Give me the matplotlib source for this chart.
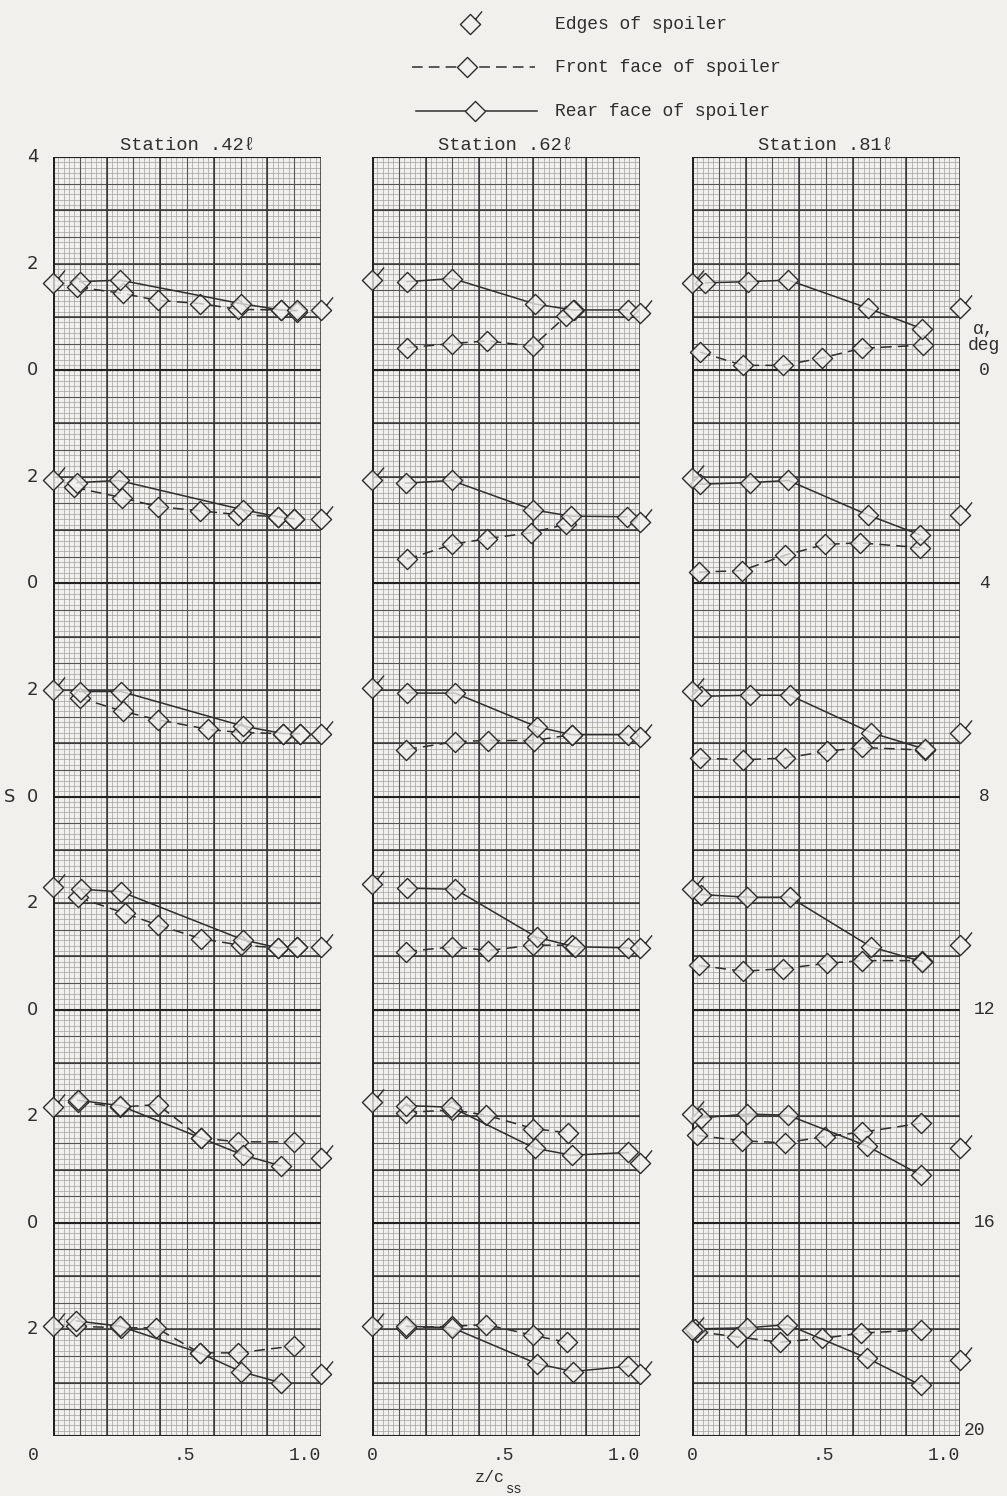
import numpy as np
import matplotlib.pyplot as plt
from matplotlib.path import Path

# angle of attack of each band, top to bottom
ALPHAS = [0, 4, 8, 12, 16, 20]
Y_TICKS = [2, 4, 6, 8, 10, 12, 14, 16, 18, 20, 22, 24]
Y_TICK_LABELS = ["2", "0", "2", "0", "2", "0", "2", "0", "2", "0", "2", "4"]
STATIONS = ["Station .42\u2113", "Station .62\u2113", "Station .81\u2113"]

# ---- station .42 l  (one list per alpha)
rear_x_42 = [[0.10, 0.25, 0.70, 0.85, 0.91],
             [0.09, 0.245, 0.71, 0.84, 0.90],
             [0.10, 0.255, 0.71, 0.86, 0.92],
             [0.105, 0.255, 0.71, 0.84, 0.91],
             [0.093, 0.25, 0.553, 0.71, 0.85],
             [0.087, 0.25, 0.547, 0.70, 0.85]]
rear_s_42 = [[1.66, 1.69, 1.25, 1.13, 1.12],
             [1.89, 1.93, 1.38, 1.25, 1.21],
             [1.97, 1.97, 1.32, 1.18, 1.18],
             [2.26, 2.21, 1.31, 1.16, 1.18],
             [2.30, 2.20, 1.59, 1.27, 1.07],
             [2.16, 2.06, 1.56, 1.21, 1.00]]
front_x_42 = [[0.09, 0.26, 0.39, 0.55, 0.69, 0.85, 0.91],
              [0.08, 0.256, 0.39, 0.55, 0.69, 0.84, 0.90],
              [0.10, 0.26, 0.39, 0.58, 0.70, 0.86, 0.92],
              [0.093, 0.267, 0.39, 0.553, 0.70, 0.84, 0.91],
              [0.093, 0.25, 0.39, 0.553, 0.69, 0.90],
              [0.087, 0.255, 0.385, 0.547, 0.69, 0.90]]
front_s_42 = [[1.56, 1.44, 1.31, 1.25, 1.14, 1.13, 1.10],
              [1.80, 1.61, 1.44, 1.36, 1.29, 1.25, 1.21],
              [1.85, 1.60, 1.44, 1.26, 1.20, 1.18, 1.18],
              [2.11, 1.81, 1.59, 1.33, 1.21, 1.16, 1.18],
              [2.27, 2.17, 2.22, 1.59, 1.52, 1.52],
              [2.06, 2.03, 2.03, 1.56, 1.56, 1.69]]
edge_l_42 = [1.63, 1.94, 2.00, 2.31, 2.17, 2.06]
edge_r_42 = [1.13, 1.20, 1.18, 1.18, 1.22, 1.16]

# ---- station .62 l
rear_x_62 = [[0.13, 0.30, 0.61, 0.75, 0.955],
             [0.126, 0.297, 0.60, 0.744, 0.95],
             [0.132, 0.31, 0.614, 0.745, 0.956],
             [0.132, 0.31, 0.614, 0.757, 0.956],
             [0.128, 0.296, 0.607, 0.745, 0.956],
             [0.128, 0.30, 0.614, 0.75, 0.956]]
rear_s_62 = [[1.66, 1.72, 1.24, 1.13, 1.13],
             [1.88, 1.93, 1.38, 1.26, 1.25],
             [1.94, 1.94, 1.31, 1.16, 1.16],
             [2.28, 2.26, 1.36, 1.18, 1.16],
             [2.20, 2.17, 1.40, 1.27, 1.32],
             [2.06, 2.03, 1.36, 1.21, 1.31]]
front_x_62 = [[0.13, 0.30, 0.43, 0.60, 0.725, 0.755],
              [0.13, 0.30, 0.43, 0.595, 0.725],
              [0.128, 0.31, 0.433, 0.605, 0.745],
              [0.128, 0.30, 0.433, 0.60, 0.745],
              [0.128, 0.30, 0.427, 0.60, 0.73],
              [0.128, 0.30, 0.427, 0.60, 0.726]]
front_s_62 = [[0.42, 0.50, 0.55, 0.45, 1.02, 1.12],
              [0.45, 0.73, 0.84, 0.95, 1.11],
              [0.88, 1.03, 1.05, 1.05, 1.16],
              [1.09, 1.18, 1.11, 1.21, 1.21],
              [2.07, 2.12, 2.02, 1.77, 1.69],
              [2.03, 2.06, 2.09, 1.89, 1.76]]
edge_l_62 = [1.69, 1.94, 2.03, 2.36, 2.27, 2.06]
edge_r_62 = [1.08, 1.16, 1.11, 1.16, 1.12, 1.16]

# ---- station .81 l
rear_x_81 = [[0.05, 0.21, 0.36, 0.658, 0.857],
             [0.03, 0.215, 0.36, 0.658, 0.85],
             [0.034, 0.218, 0.365, 0.667, 0.868],
             [0.034, 0.207, 0.365, 0.667, 0.86],
             [0.034, 0.205, 0.358, 0.654, 0.855],
             [0.013, 0.207, 0.356, 0.654, 0.855]]
rear_s_81 = [[1.64, 1.66, 1.69, 1.16, 0.78],
             [1.86, 1.89, 1.93, 1.28, 0.91],
             [1.88, 1.90, 1.90, 1.20, 0.89],
             [2.16, 2.11, 2.11, 1.18, 0.90],
             [1.97, 2.04, 2.02, 1.44, 0.89],
             [2.01, 2.03, 2.09, 1.46, 0.95]]
front_x_81 = [[0.03, 0.19, 0.34, 0.485, 0.634, 0.863],
              [0.025, 0.186, 0.348, 0.497, 0.627, 0.85],
              [0.03, 0.19, 0.346, 0.503, 0.635, 0.868],
              [0.025, 0.192, 0.34, 0.503, 0.635, 0.86],
              [0.019, 0.185, 0.348, 0.497, 0.635, 0.855],
              [0.019, 0.167, 0.327, 0.484, 0.629, 0.855]]
front_s_81 = [[0.34, 0.09, 0.09, 0.23, 0.41, 0.47],
              [0.21, 0.24, 0.53, 0.73, 0.76, 0.67],
              [0.72, 0.69, 0.72, 0.85, 0.92, 0.87],
              [0.83, 0.72, 0.77, 0.87, 0.92, 0.92],
              [1.64, 1.54, 1.50, 1.62, 1.70, 1.87],
              [1.96, 1.86, 1.76, 1.83, 1.93, 1.99]]
edge_l_81 = [1.64, 1.97, 1.98, 2.26, 2.04, 1.99]
edge_r_81 = [1.16, 1.28, 1.20, 1.21, 1.40, 1.43]

PAPER = "#f1f0ec"
INK = "#2e2e2e"
MONO = ["Liberation Mono", "DejaVu Sans Mono"]

# diamond, and diamond with the little tick used for the spoiler edges
DIAMOND = Path([(0, -1), (1, 0), (0, 1), (-1, 0), (0, -1)],
               [Path.MOVETO, Path.LINETO, Path.LINETO, Path.LINETO, Path.CLOSEPOLY])
EDGE = Path([(0, -1), (1, 0), (0, 1), (-1, 0), (0, -1), (0.5, 0.5), (1.15, 1.3)],
            [Path.MOVETO, Path.LINETO, Path.LINETO, Path.LINETO, Path.CLOSEPOLY,
             Path.MOVETO, Path.LINETO])
MS = 14.5
MFC = (0.95, 0.945, 0.93, 0.75)


def draw_grid(ax):
    ax.vlines(np.arange(0, 1.0001, 0.02), 0, 24, color="#999999", lw=0.45, zorder=1)
    ax.hlines(np.arange(0, 24.001, 0.1), 0, 1, color="#999999", lw=0.45, zorder=1)
    ax.vlines(np.arange(0, 1.0001, 0.1), 0, 24, color="#555555", lw=0.8, zorder=1)
    ax.hlines(np.arange(0, 24.001, 0.5), 0, 1, color="#555555", lw=0.8, zorder=1)
    ax.vlines(np.arange(0, 1.0001, 0.2), 0, 24, color="#353535", lw=1.1, zorder=1)
    ax.hlines(np.arange(0, 24.001, 1), 0, 1, color="#353535", lw=1.1, zorder=1)
    ax.hlines(np.arange(0, 24.001, 4), 0, 1, color="#222222", lw=1.5, zorder=1)
    ax.vlines([0], 0, 24, color="#222222", lw=2.2, zorder=1)


def draw_panel(ax, rear_x, rear_s, front_x, front_s, edge_l, edge_r):
    draw_grid(ax)
    for k, alpha in enumerate(ALPHAS):
        base = 20 - alpha
        ax.plot(front_x[k], np.add(front_s[k], base), color=INK, lw=1.1,
                dashes=(7, 4), marker=DIAMOND, ms=MS, mfc=MFC, mec=INK,
                mew=1.0, zorder=3, clip_on=False)
        ax.plot(rear_x[k], np.add(rear_s[k], base), color=INK, lw=1.1,
                marker=DIAMOND, ms=MS, mfc=MFC, mec=INK, mew=1.0,
                zorder=4, clip_on=False)
        ax.plot([0.0, 1.0], [edge_l[k] + base, edge_r[k] + base], ls="none",
                marker=EDGE, ms=MS * 1.3, mfc=MFC, mec=INK, mew=1.0,
                zorder=5, clip_on=False)
    ax.set_xlim(0, 1)
    ax.set_ylim(0, 24)
    ax.set_xticks([])
    ax.set_yticks([])
    for s in ax.spines.values():
        s.set_visible(False)
    ax.set_facecolor(PAPER)


fig = plt.figure(figsize=(10.07, 14.96), dpi=100, facecolor=PAPER)

lefts = [53 / 1007, 372 / 1007, 692 / 1007]
width = 268 / 1007
bottom = (1496 - 1436) / 1496
height = 1279 / 1496

panels = [
    (rear_x_42, rear_s_42, front_x_42, front_s_42, edge_l_42, edge_r_42),
    (rear_x_62, rear_s_62, front_x_62, front_s_62, edge_l_62, edge_r_62),
    (rear_x_81, rear_s_81, front_x_81, front_s_81, edge_l_81, edge_r_81),
]

axes = []
for i, data in enumerate(panels):
    ax = fig.add_axes([lefts[i], bottom, width, height])
    draw_panel(ax, *data)
    ax.text(0.5, 24.05, STATIONS[i], ha="center", va="bottom",
            fontsize=13.5, family=MONO, color=INK)
    # x tick labels
    x0 = -0.075 if i == 0 else 0.0
    for xv, lab in zip([x0, 0.49, 0.94], ["0", ".5", "1.0"]):
        ax.text(xv, -0.36, lab, ha="center", va="center", fontsize=13,
                family=MONO, color=INK)
    axes.append(ax)

# left S scale
for yv, lab in zip(Y_TICKS, Y_TICK_LABELS):
    axes[0].text(-0.055, yv, lab, ha="right", va="center", fontsize=13,
                 family="DejaVu Sans", color=INK)
axes[0].text(-0.14, 12, "S", ha="right", va="center", fontsize=13,
             family="DejaVu Sans", color=INK)

# right alpha scale
for alpha in ALPHAS:
    yv = 20 - alpha
    if alpha == 20:
        axes[2].text(1.055, 0.1, "20", ha="center", va="center", fontsize=13,
                     family=MONO, color=INK)
    else:
        axes[2].text(1.09, yv, str(alpha), ha="center", va="center",
                     fontsize=13, family=MONO, color=INK)
axes[2].text(1.09, 20.3, "\u03b1,\ndeg", ha="center", va="bottom", fontsize=13,
             family=MONO, color=INK, linespacing=0.95)

# axis title z/c_ss
fig.text(490 / 1007, 1 - 1477 / 1496, "z/c", ha="center", va="center",
         fontsize=12, family=MONO, color=INK)
fig.text(506 / 1007, 1 - 1489 / 1496, "ss", ha="left", va="center",
         fontsize=10, family=MONO, color=INK)

# legend at the top, drawn in pixel coordinates
lg = fig.add_axes([0, 0, 1, 1], zorder=-1)
lg.set_xlim(0, 1007)
lg.set_ylim(1496, 0)
lg.set_axis_off()
lg.plot([470], [24], ls="none", marker=EDGE, ms=MS * 1.3, mfc="none",
        mec=INK, mew=1.0)
lg.plot([412, 535], [67, 67], color=INK, lw=1.1, dashes=(7, 4))
lg.plot([467], [67], ls="none", marker=DIAMOND, ms=MS, mfc=PAPER, mec=INK,
        mew=1.0)
lg.plot([416, 537], [111, 111], color=INK, lw=1.1)
lg.plot([475], [111], ls="none", marker=DIAMOND, ms=MS, mfc=PAPER, mec=INK,
        mew=1.0)
for yy, txt in zip([24, 67, 111], ["Edges of spoiler", "Front face of spoiler",
                                   "Rear face of spoiler"]):
    lg.text(555, yy, txt, ha="left", va="center", fontsize=13, family=MONO,
            color=INK)

fig.savefig("out.png", dpi=100, facecolor=PAPER)
